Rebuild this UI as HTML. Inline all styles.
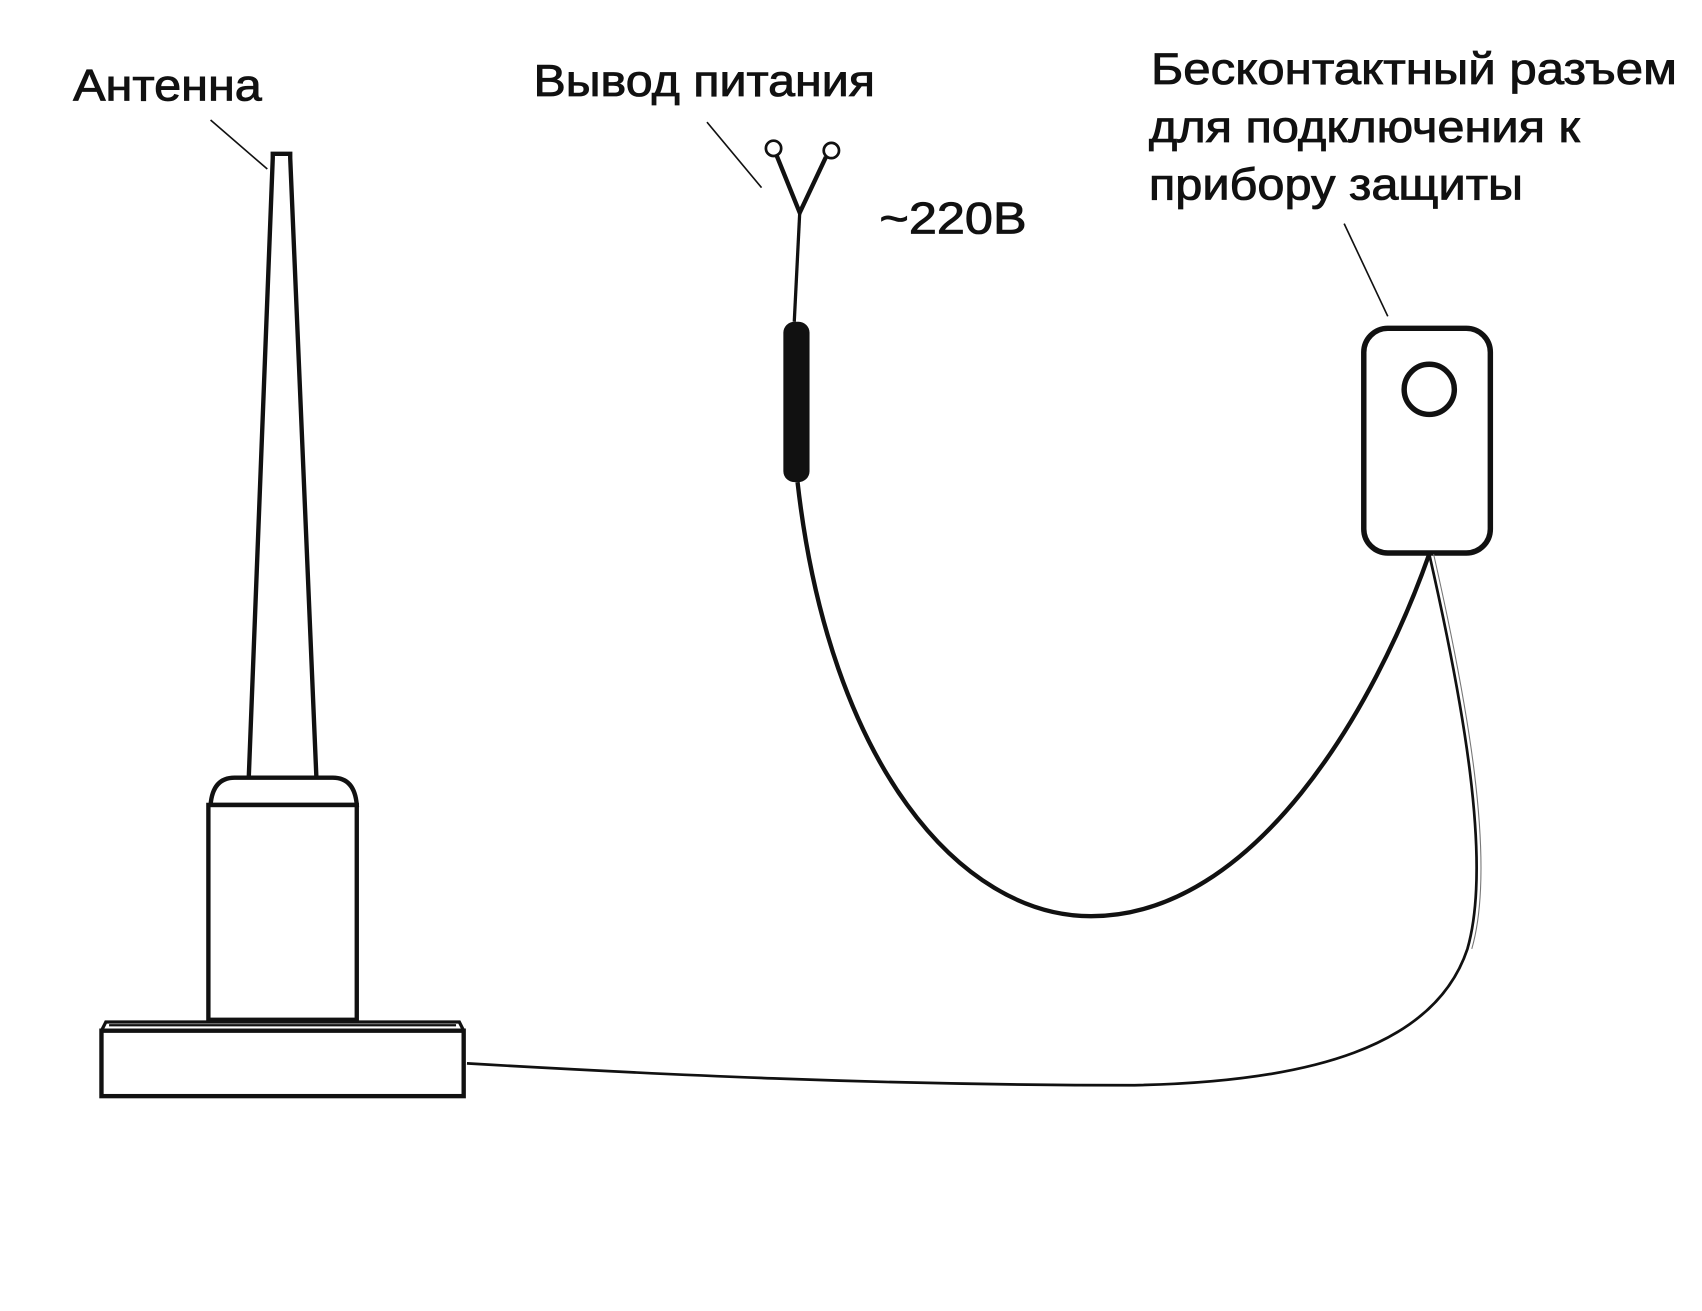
<!DOCTYPE html>
<html><head><meta charset="utf-8"><style>html,body{margin:0;padding:0;background:#fff}svg{display:block}</style></head>
<body>
<svg width="1702" height="1311" viewBox="0 0 1560 1202" preserveAspectRatio="none" xmlns="http://www.w3.org/2000/svg">
<g font-family="Liberation Sans, sans-serif" font-size="41" fill="#111" stroke="#111" stroke-width="0.8">
<text x="67" y="92" textLength="173" lengthAdjust="spacingAndGlyphs">Антенна</text>
<text x="489" y="88" textLength="313" lengthAdjust="spacingAndGlyphs">Вывод питания</text>
<text x="806" y="214" textLength="135" lengthAdjust="spacingAndGlyphs">~220В</text>
<text x="1055" y="77" textLength="482" lengthAdjust="spacingAndGlyphs">Бесконтактный разъем</text>
<text x="1053" y="130" textLength="395" lengthAdjust="spacingAndGlyphs">для подключения к</text>
<text x="1053" y="183" textLength="343" lengthAdjust="spacingAndGlyphs">прибору защиты</text>
</g>
<g stroke="#111" fill="none">
<line x1="193" y1="110" x2="245" y2="155" stroke-width="1.5"/>
<line x1="648" y1="112" x2="698" y2="172" stroke-width="1.5"/>
<line x1="1232" y1="205" x2="1272" y2="290" stroke-width="1.5"/>
<path d="M228 713 L250 145 L250 141 L266 141 L266 145 L290 713" stroke-width="4"/>
<path d="M193 738 Q195 713 215 713 L305 713 Q325 713 327 738 Z" stroke-width="4"/>
<rect x="191" y="738" width="136" height="197" stroke-width="4"/>
<path d="M93 945 L97 937 L421 937 L425 945" stroke-width="3"/>
<line x1="100" y1="940" x2="418" y2="940" stroke-width="2"/>
<rect x="93" y="945" width="332" height="60" stroke-width="4"/>
<circle cx="709" cy="136" r="7" stroke-width="2.5"/>
<circle cx="762" cy="138" r="7" stroke-width="2.5"/>
<path d="M712 143 L733 195 L757 144" stroke-width="4"/>
<path d="M733 195 L728 295" stroke-width="3"/>
<rect x="718" y="295" width="24" height="147" rx="10" fill="#111" stroke="none"/>
<path d="M731 442 C760 700 880 840 1000 840 C1150 840 1260 650 1310 508" stroke-width="4"/>
<rect x="1250" y="301" width="116" height="206" rx="22" stroke-width="5"/>
<circle cx="1310" cy="357" r="23" stroke-width="5"/>
<path d="M1310 508 C1340 640 1368 790 1345 870 C1315 960 1200 992 1040 995 C800 995 600 985 428 975" stroke-width="2.5"/>
<path d="M1314 508 C1344 640 1372 790 1349 870" stroke-width="1" stroke="#777"/>
</g>
</svg>
</body></html>
